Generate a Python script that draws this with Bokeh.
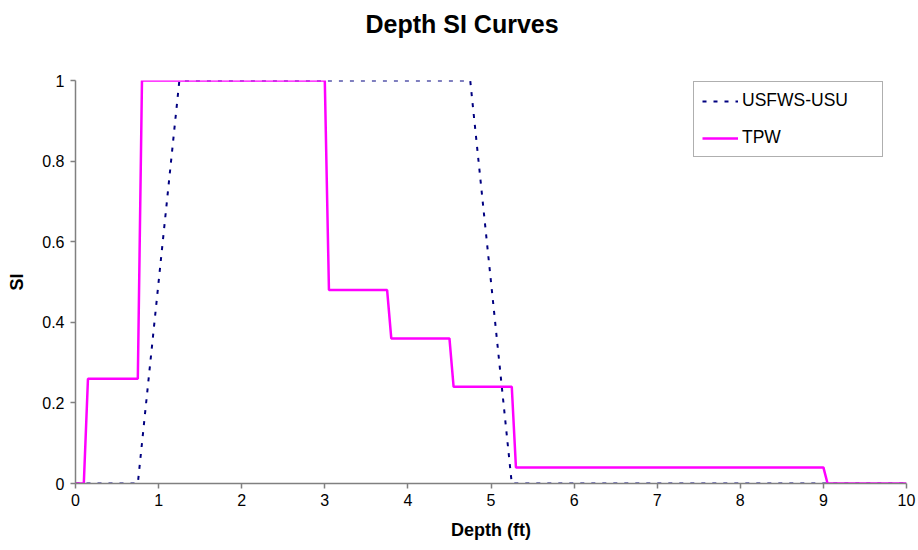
from bokeh.plotting import figure
from bokeh.models import Range1d, FixedTicker, Legend, LegendItem, Title
from bokeh.embed import file_html
from bokeh.resources import INLINE

# Data
usfws_x = [0, 0.75, 1.25, 4.75, 5.25, 10]
usfws_y = [0, 0, 1, 1, 0, 0]

tpw_x = [0, 0.1, 0.15, 0.75, 0.8, 3.0, 3.05, 3.75, 3.8, 4.5, 4.55, 5.25, 5.3, 9.0, 9.05, 10]
tpw_y = [0, 0, 0.26, 0.26, 1, 1, 0.48, 0.48, 0.36, 0.36, 0.24, 0.24, 0.04, 0.04, 0, 0]

x_ticks = [0, 1, 2, 3, 4, 5, 6, 7, 8, 9, 10]
x_labels = ["0", "1", "2", "3", "4", "5", "6", "7", "8", "9", "10"]
y_ticks = [0, 0.2, 0.4, 0.6, 0.8, 1.0]
y_labels = ["0", "0.2", "0.4", "0.6", "0.8", "1"]

TITLE = "Depth SI Curves"
FONT = "Liberation Sans"

p = figure(width=918, height=550, output_backend="svg", toolbar_location=None,
           title=None,
           x_range=Range1d(0, 10), y_range=Range1d(0, 1),
           min_border_left=75, min_border_right=12, min_border_top=80, min_border_bottom=67)
p.outline_line_color = None
p.xgrid.visible = False
p.ygrid.visible = False
p.background_fill_color = "white"
p.border_fill_color = "white"

# spacer (nearest the frame), then the real title above it
spacer = Title(text=" ", text_font=FONT, text_font_size="10px", standoff=21)
p.add_layout(spacer, "above")
title = Title(text=TITLE, text_font=FONT, text_font_size="25px", text_font_style="bold",
              text_color="black", align="left", offset=290, standoff=16,
              vertical_align="middle")
p.add_layout(title, "above")

r1 = p.line(usfws_x, usfws_y, line_color="#000080", line_width=2, line_dash="4 7")
r2 = p.line(tpw_x, tpw_y, line_color="#FF00FF", line_width=2.5)

for ax in (p.xaxis[0], p.yaxis[0]):
    ax.axis_line_color = "#808080"
    ax.axis_line_width = 1.5
    ax.major_tick_line_color = "#808080"
    ax.major_tick_line_width = 1.5
    ax.major_tick_out = 5
    ax.major_tick_in = 0
    ax.minor_tick_line_color = None
    ax.major_label_text_font = FONT
    ax.major_label_text_font_size = "16px"
    ax.major_label_text_color = "black"
    ax.axis_label_text_font = FONT
    ax.axis_label_text_font_size = "18px"
    ax.axis_label_text_font_style = "bold"
    ax.axis_label_text_color = "black"

p.xaxis[0].ticker = FixedTicker(ticks=x_ticks)
p.xaxis[0].major_label_overrides = {t: l for t, l in zip(x_ticks, x_labels)}
p.xaxis[0].axis_label = "Depth (ft)"
p.xaxis[0].major_label_standoff = 5
p.xaxis[0].axis_label_standoff = 11

p.yaxis[0].ticker = FixedTicker(ticks=y_ticks)
p.yaxis[0].major_label_overrides = {t: l for t, l in zip(y_ticks, y_labels)}
p.yaxis[0].axis_label = "SI"
p.yaxis[0].major_label_standoff = 6
p.yaxis[0].axis_label_standoff = 12

legend = Legend(items=[LegendItem(label="USFWS-USU", renderers=[r1]),
                       LegendItem(label="TPW", renderers=[r2])],
                location=(618, 326))
legend.border_line_color = "#606060"
legend.border_line_width = 1.5
legend.label_text_font = FONT
legend.label_text_font_size = "17.5px"
legend.label_text_color = "black"
legend.glyph_width = 36
legend.glyph_height = 20
legend.label_height = 20
legend.label_width = 132
legend.spacing = 16
legend.padding = 8
legend.margin = 0
legend.label_standoff = 4
legend.background_fill_alpha = 1
p.add_layout(legend, "center")

open("out.html", "w").write(file_html(p, INLINE))
